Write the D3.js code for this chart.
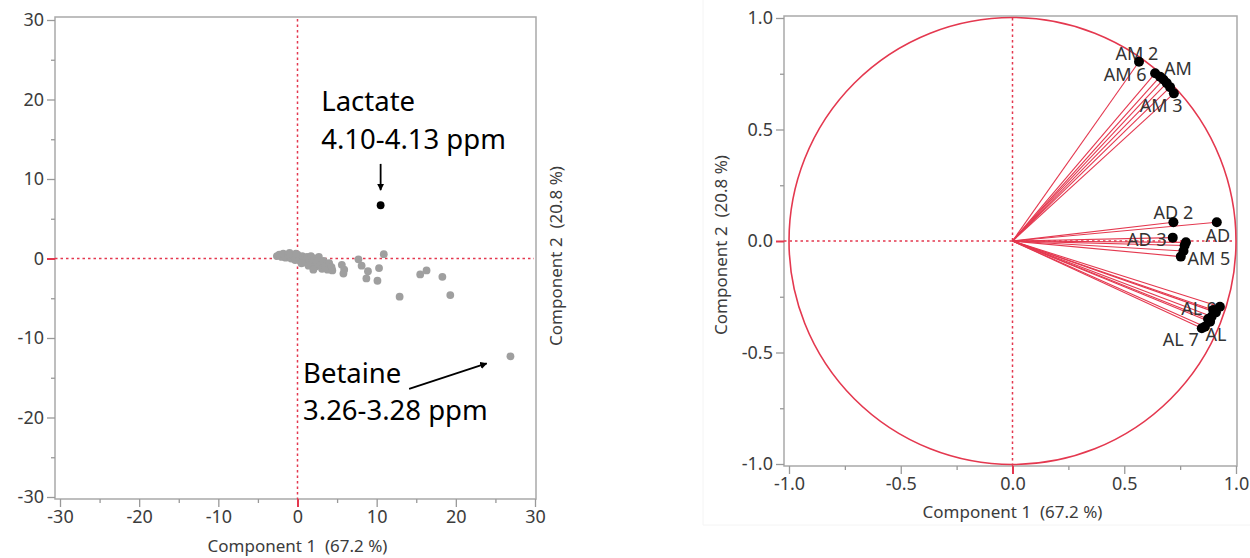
<!DOCTYPE html>
<html>
<head>
<meta charset="utf-8">
<script src="https://cdn.jsdelivr.net/npm/d3@7"></script>
<style>
body { margin: 0; background: #fff; }
text { font-family: "Noto Sans", sans-serif; white-space: pre; }
</style>
</head>
<body>
<div id="grafico"></div>
<script>
// score plot (left): gray points
const scoreX = [-2.6, -2.3, -2.0, -1.8, -1.5, -1.2, -1.0, -0.8, -0.5, -0.3, 0.0, 0.2, 0.4, 0.6, 0.8, 1.0,
    1.2, 1.5, 1.7, 1.9, 2.1, 2.3, 2.5, 2.7, 2.9, 3.1, 3.3, 3.5, 3.8, 4.0, 4.3, 4.4, 1.4, 0.5, -0.2, 2.0,
    5.6, 5.9, 5.8, 7.7, 8.1, 8.9, 8.7, 10.3, 10.1, 10.9, 12.9, 15.5, 16.3, 18.3, 19.3, 26.9];
const scoreY = [0.3, 0.5, 0.2, 0.6, 0.1, 0.4, 0.7, 0.0, 0.3, -0.2, 0.5, 0.1, -0.3, 0.3, -0.1, -0.5,
    0.2, -0.3, 0.3, -0.6, 0.0, -1.0, -0.4, 0.2, -0.8, -1.3, -0.3, -1.0, -1.4, -0.6, -1.1, -1.5, -0.9, -0.6, 0.6, -1.4,
    -0.8, -1.4, -1.9, -0.1, -0.9, -1.6, -2.5, -1.2, -2.8, 0.55, -4.8, -2.0, -1.5, -2.3, -4.6, -12.3];
// highlighted score (lactate)
const lactateX = [10.5];
const lactateY = [6.7];
const scoreTicks = [-30, -20, -10, 0, 10, 20, 30];
const scoreMinor = [-25, -15, -5, 5, 15, 25];

// loading plot (right)
const loadingNames = ['AM 2', 'AM 6', 'AM', '', '', 'AM 3', '',
    'AD 2', 'AD', 'AD 3', '', '', '', 'AM 5',
    '', 'AL 9', '', '', '', '', 'AL', 'AL 7'];
const loadingX = [0.566, 0.638, 0.660, 0.675, 0.690, 0.705, 0.722,
    0.720, 0.914, 0.717, 0.776, 0.770, 0.765, 0.753,
    0.928, 0.898, 0.910, 0.891, 0.884, 0.875, 0.861, 0.847];
const loadingY = [0.804, 0.752, 0.737, 0.724, 0.708, 0.690, 0.662,
    0.084, 0.084, 0.015, -0.006, -0.020, -0.045, -0.070,
    -0.295, -0.309, -0.320, -0.339, -0.362, -0.350, -0.384, -0.391];
const loadingTicks = [-1, -0.5, 0, 0.5, 1];
const loadingMinor = [-0.75, -0.25, 0.25, 0.75];

const axisTitleX = 'Component 1  (67.2 %)';
const axisTitleY = 'Component 2  (20.8 %)';

// label placement (pixels relative to the point)
const labelOffset = {
    'AM 2': [-2, -2], 'AM 6': [-30, 8], 'AM': [18, -2], 'AM 3': [-9, 25],
    'AD 2': [0, -3], 'AD': [1, 20], 'AD 3': [-26, 8], 'AM 5': [28, 8],
    'AL 9': [-14, 5], 'AL': [11, 14], 'AL 7': [-21, 18]
};

const red = '#e4384f';
const frameColor = '#a9a9a9';
const tickColor = '#999';
const labelColor = '#3c3c3c';

const svg = d3.select('#grafico').append('svg')
    .attr('width', 1250).attr('height', 558);

const defs = svg.append('defs');
defs.append('marker')
    .attr('id', 'seta')
    .attr('viewBox', '0 0 10 10')
    .attr('refX', 9).attr('refY', 5)
    .attr('markerWidth', 4).attr('markerHeight', 4)
    .attr('orient', 'auto')
    .append('path').attr('d', 'M0,0 L10,5 L0,10 z').attr('fill', '#000');

// faint panel border behind right plot
svg.append('path')
    .attr('d', 'M703,0 V525 H1250')
    .attr('fill', 'none').attr('stroke', '#f4f4f4');

function drawFrame(g, frame, x, y, ticks, minor, fmt) {
    g.append('rect')
        .attr('x', frame.left).attr('y', frame.top)
        .attr('width', frame.right - frame.left)
        .attr('height', frame.bottom - frame.top)
        .attr('fill', 'none').attr('stroke', frameColor).attr('stroke-width', 1.5);

    const styleAxis = sel => {
        sel.select('.domain').remove();
        sel.selectAll('line').attr('stroke', tickColor).attr('stroke-width', 1.3);
        sel.selectAll('text').attr('fill', labelColor).style('font-size', '18px');
        sel.selectAll('.tick').filter(d => d === 0).select('line')
            .attr('stroke', red).attr('stroke-width', 2);
    };

    g.append('g').attr('transform', `translate(${frame.left},0)`)
        .call(d3.axisLeft(y).tickValues(ticks).tickSize(8).tickPadding(3).tickFormat(fmt))
        .call(styleAxis);
    g.append('g').attr('transform', `translate(${frame.left},0)`)
        .call(d3.axisLeft(y).tickValues(minor).tickSize(4).tickFormat(''))
        .call(styleAxis);
    g.append('g').attr('transform', `translate(0,${frame.bottom})`)
        .call(d3.axisBottom(x).tickValues(ticks).tickSize(8).tickPadding(3).tickFormat(fmt))
        .call(styleAxis);
    g.append('g').attr('transform', `translate(0,${frame.bottom})`)
        .call(d3.axisBottom(x).tickValues(minor).tickSize(4).tickFormat(''))
        .call(styleAxis);

    // dotted reference lines through 0
    g.append('line')
        .attr('x1', x(0)).attr('x2', x(0)).attr('y1', frame.top + 2).attr('y2', frame.bottom)
        .attr('stroke', red).attr('stroke-width', 1.5).attr('stroke-dasharray', '2.5,3');
    g.append('line')
        .attr('x1', frame.left).attr('x2', frame.right - 2).attr('y1', y(0)).attr('y2', y(0))
        .attr('stroke', red).attr('stroke-width', 1.5).attr('stroke-dasharray', '2.5,3');
}

// ---------- left: scores ----------
const frameL = { left: 55, right: 536, top: 17, bottom: 499 };
const xL = d3.scaleLinear().domain([-30, 30]).range([60, 535]);
const yL = d3.scaleLinear().domain([-30, 30]).range([497, 20]);
const gL = svg.append('g');
drawFrame(gL, frameL, xL, yL, scoreTicks, scoreMinor, d => String(d));

gL.selectAll('.score')
    .data(scoreX.map((v, i) => ({ x: v, y: scoreY[i] })))
    .enter().append('circle')
    .attr('class', 'score')
    .attr('cx', d => xL(d.x)).attr('cy', d => yL(d.y))
    .attr('r', 3.9).attr('fill', '#9f9f9f');

gL.selectAll('.lactate')
    .data(lactateX.map((v, i) => ({ x: v, y: lactateY[i] })))
    .enter().append('circle')
    .attr('class', 'lactate')
    .attr('cx', d => xL(d.x)).attr('cy', d => yL(d.y))
    .attr('r', 3.9).attr('fill', '#000');

// annotations
const notas = [
    { linhas: ['Lactate', '4.10-4.13 ppm'], x: 3.0, y: 18.5, seta: [[10.5, 11.9], [10.5, 8.6]] },
    { linhas: ['Betaine', '3.26-3.28 ppm'], x: 0.7, y: -15.6, seta: [[14.1, -16.4], [23.9, -13.2]] }
];
notas.forEach(n => {
    n.linhas.forEach((t, i) => {
        gL.append('text')
            .attr('x', xL(n.x)).attr('y', yL(n.y) + i * 37.5)
            .style('font-size', '27.5px').attr('fill', '#000')
            .text(t);
    });
    gL.append('line')
        .attr('x1', xL(n.seta[0][0])).attr('y1', yL(n.seta[0][1]))
        .attr('x2', xL(n.seta[1][0])).attr('y2', yL(n.seta[1][1]))
        .attr('stroke', '#000').attr('stroke-width', 1.8)
        .attr('marker-end', 'url(#seta)');
});

gL.append('text')
    .attr('x', xL(0)).attr('y', 552)
    .attr('text-anchor', 'middle').attr('fill', labelColor)
    .style('font-size', '17px').text(axisTitleX);
gL.append('text')
    .attr('transform', `translate(562,256) rotate(-90)`)
    .attr('text-anchor', 'middle').attr('fill', labelColor)
    .style('font-size', '17px').text(axisTitleY);

// ---------- right: loadings ----------
const frameR = { left: 784, right: 1237, top: 16, bottom: 466 };
const xR = d3.scaleLinear().domain([-1, 1]).range([789, 1236]);
const yR = d3.scaleLinear().domain([-1, 1]).range([464, 18]);
const gR = svg.append('g');
drawFrame(gR, frameR, xR, yR, loadingTicks, loadingMinor, d => d.toFixed(1));

gR.append('circle')
    .attr('cx', xR(0)).attr('cy', yR(0))
    .attr('r', xR(1) - xR(0))
    .attr('fill', 'none').attr('stroke', red).attr('stroke-width', 1.6);

const loadings = loadingX.map((v, i) => ({ nome: loadingNames[i], x: v, y: loadingY[i] }));

gR.selectAll('.raio')
    .data(loadings)
    .enter().append('line')
    .attr('class', 'raio')
    .attr('x1', xR(0)).attr('y1', yR(0))
    .attr('x2', d => xR(d.x)).attr('y2', d => yR(d.y))
    .attr('stroke', red).attr('stroke-width', 1.1);

gR.selectAll('.rotulo')
    .data(loadings.filter(d => d.nome))
    .enter().append('text')
    .attr('class', 'rotulo')
    .attr('x', d => xR(d.x) + labelOffset[d.nome][0])
    .attr('y', d => yR(d.y) + labelOffset[d.nome][1])
    .attr('text-anchor', 'middle').attr('fill', '#333')
    .style('font-size', '18px')
    .text(d => d.nome);

gR.selectAll('.ponto')
    .data(loadings)
    .enter().append('circle')
    .attr('class', 'ponto')
    .attr('cx', d => xR(d.x)).attr('cy', d => yR(d.y))
    .attr('r', 5).attr('fill', '#000');

gR.append('text')
    .attr('x', xR(0)).attr('y', 518)
    .attr('text-anchor', 'middle').attr('fill', labelColor)
    .style('font-size', '17px').text(axisTitleX);
gR.append('text')
    .attr('transform', `translate(727,245) rotate(-90)`)
    .attr('text-anchor', 'middle').attr('fill', labelColor)
    .style('font-size', '17px').text(axisTitleY);
</script>
</body>
</html>
